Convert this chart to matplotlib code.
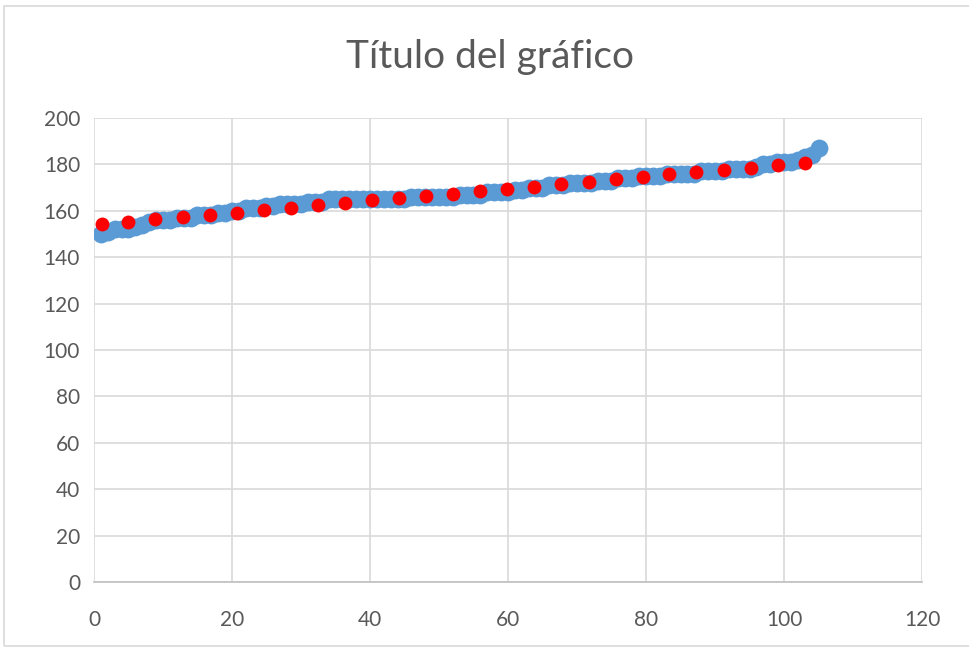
import matplotlib.pyplot as plt
from matplotlib.patches import Rectangle

# blue series: sorted heights, one per index 1..105
x_blue = list(range(1, 106))
y_blue = [150,
          151, 152, 152, 152, 153,
          154, 155,
          156, 156, 156, 157, 157,
          157, 158, 158, 158,
          159, 159,
          160, 160, 161, 161, 161,
          162, 162, 163, 163,
          163, 163, 164, 164, 164,
          165, 165, 165, 165, 165, 165, 165, 165, 165, 165, 165, 165,
          166, 166, 166, 166, 166, 166, 166,
          167, 167, 167, 167,
          168, 168, 168, 168,
          169, 169, 170, 170,
          170, 171, 171, 171, 172,
          172, 172, 172, 173,
          173, 173, 174, 174, 174,
          175, 175, 175, 175, 176,
          176, 176, 176, 176, 177, 177, 177,
          177, 178, 178, 178, 178,
          179, 180, 180, 181,
          181, 181, 182,
          183, 184,
          187]

# red series
x_red = [1.1, 5.0, 8.9, 12.9, 16.8, 20.7, 24.6, 28.5, 32.5, 36.4, 40.3, 44.2, 48.1, 52.1,
         56.0, 59.9, 63.8, 67.7, 71.7, 75.6, 79.5, 83.4, 87.3, 91.3, 95.2, 99.1, 103.0]
y_red = [154.2, 155.3, 156.3, 157.2, 158.2, 159.2, 160.3, 161.3, 162.4, 163.5, 164.5, 165.4,
         166.4, 167.4, 168.5, 169.4, 170.4, 171.4, 172.5, 173.6, 174.4, 175.7, 176.6, 177.4,
         178.3, 179.6, 180.7]

plt.rcParams['font.family'] = ['Lato', 'DejaVu Sans']

fig = plt.figure(figsize=(9.69, 6.52), dpi=100)
ax = fig.add_axes([0.097, 0.1074, 0.8545, 0.7116])

ax.scatter(x_blue, y_blue, s=165, color='#5B9BD5', zorder=3, linewidths=0)
ax.scatter(x_red, y_red, s=100, color='#FF0000', zorder=4, linewidths=0)

ax.set_xlim(0, 120)
ax.set_ylim(0, 200)
ax.set_xticks(range(0, 121, 20))
ax.set_yticks(range(0, 201, 20))
ax.grid(True, color='#D9D9D9', linewidth=1.2, zorder=0)
ax.set_axisbelow(True)
for side in ['top', 'right', 'left']:
    ax.spines[side].set_visible(False)
ax.spines['bottom'].set_color('#BFBFBF')
ax.spines['bottom'].set_linewidth(1.2)
ax.tick_params(axis='both', length=0, labelsize=15, labelcolor='#595959')
ax.tick_params(axis='x', pad=20)
ax.tick_params(axis='y', pad=10)

fig.text(0.506, 0.913, 'Título del gráfico', ha='center', va='center',
         fontsize=28, color='#595959')

# chart area border
fig.patches.append(Rectangle((4 / 969, 6 / 652), 1.0, 1 - 12 / 652,
                             transform=fig.transFigure, fill=False,
                             edgecolor='#D9D9D9', linewidth=1.2))

fig.savefig('out.png', dpi=100)
